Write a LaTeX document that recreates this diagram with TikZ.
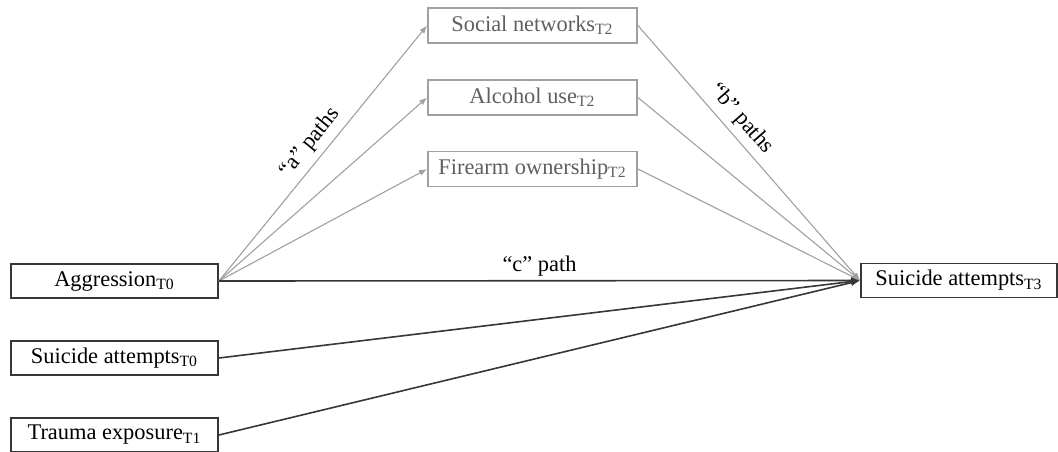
\documentclass[tikz,border=0pt]{standalone}
\usepackage{fontspec}
\setmainfont{Liberation Serif}
\usepackage{xcolor}
\definecolor{ColBox}{RGB}{55,55,55}
\definecolor{ColMed}{RGB}{160,160,160}
\definecolor{ColMedText}{RGB}{95,95,95}
\usetikzlibrary{arrows.meta}
\tikzstyle{Var}=[draw=ColBox,line width=0.9pt,minimum width=103.5pt,
minimum height=17pt,inner sep=0pt,font=\fontsize{11.2}{13}\selectfont]
\tikzstyle{Med}=[Var,draw=ColMed,text=ColMedText,minimum width=104.5pt,
minimum height=17.5pt]
\tikzstyle{EdgeA}=[draw=ColMed,line width=0.55pt,
-{Latex[length=4pt,width=3pt]}]
\tikzstyle{EdgeC}=[draw=ColBox,line width=0.8pt,
-{Latex[length=4.5pt,width=3.5pt]}]
\tikzstyle{Lbl}=[font=\fontsize{11.2}{13}\selectfont,inner sep=3pt]

\begin{document}
\begin{tikzpicture}[x=0.5pt,y=-0.5pt]
        \useasboundingbox(0,0)rectangle(1058,451);
        \node[Var](aggr)at(114.5,281){Aggression\textsubscript{T0}};
        \node[Var](suiT0)at(114.5,358){Suicide attempts\textsubscript{T0}};
        \node[Var](trauma)at(114.5,435){Trauma exposure\textsubscript{T1}};
        \node[Med](social)at(532.5,25.5){Social networks\textsubscript{T2}};
        \node[Med](alcohol)at(532.5,97.5){Alcohol use\textsubscript{T2}};
        \node[Med](firearm)at(532.5,169){Firearm ownership\textsubscript{T2}};
        \node[Var,minimum width=98pt](suiT3)at(959,280.5)
            {Suicide attempts\textsubscript{T3}};
        \draw[EdgeA](aggr.east)--(social.west)
            node[Lbl,sloped,above,pos=.5]{``a'' paths};
        \draw[EdgeA](aggr.east)--(alcohol.west);
        \draw[EdgeA](aggr.east)--(firearm.west);
        \draw[EdgeA](social.east)--(suiT3.west)
            node[Lbl,sloped,above,pos=.41]{``b'' paths};
        \draw[EdgeA](alcohol.east)--(suiT3.west);
        \draw[EdgeA](firearm.east)--(suiT3.west);
        \draw[EdgeC](aggr.east)--(suiT3.west)
            node[Lbl,above,pos=.5,inner sep=2pt]{``c'' path};
        \draw[EdgeC](suiT0.east)--(suiT3.west);
        \draw[EdgeC](trauma.east)--(suiT3.west);
    \end{tikzpicture}
\end{document}
